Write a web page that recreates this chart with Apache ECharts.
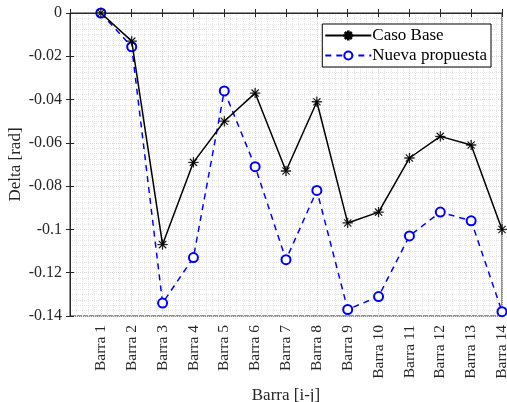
<!DOCTYPE html>
<html>
<head>
<meta charset="utf-8">
<script src="https://cdn.jsdelivr.net/npm/echarts@6/dist/echarts.min.js"></script>
<style>
  html, body { margin: 0; padding: 0; background: #fff; }
  #chart { width: 507px; height: 402px; }
</style>
</head>
<body>
<div id="chart"></div>
<script>
// Bar positions 1..14 and delta values
const barras = [1, 2, 3, 4, 5, 6, 7, 8, 9, 10, 11, 12, 13, 14];
const casoBase = [0, -0.013, -0.107, -0.069, -0.050, -0.037, -0.073, -0.041, -0.097, -0.092, -0.067, -0.057, -0.061, -0.100];
const nuevaPropuesta = [0, -0.0156, -0.134, -0.113, -0.036, -0.071, -0.114, -0.082, -0.137, -0.131, -0.103, -0.092, -0.096, -0.138];
const yTicks = [0, -0.02, -0.04, -0.06, -0.08, -0.1, -0.12, -0.14];

const FONT = 'Liberation Serif';
const asterisk = 'path://M-0.08,-1 L0.08,-1 L0.08,1 L-0.08,1 Z M-1,-0.08 L-1,0.08 L1,0.08 L1,-0.08 Z ' +
  'M-0.76,-0.64 L0.64,0.76 L0.76,0.64 L-0.64,-0.76 Z M-0.76,0.64 L-0.64,0.76 L0.76,-0.64 L0.64,-0.76 Z';

const chart = echarts.init(document.getElementById('chart'));

const gridLine = { show: true, lineStyle: { color: '#d6d6d6', type: 'dotted', width: 1 } };
const minorLine = { show: true, lineStyle: { color: '#e4e4e4', type: 'dotted', width: 1 } };

chart.setOption({
  backgroundColor: '#fff',
  animation: false,
  textStyle: { fontFamily: FONT },
  grid: {
    left: 70, right: 5, top: 13, bottom: 86,
    containLabel: false, outerBoundsMode: 'none',
    show: true, borderColor: '#262626', borderWidth: 1
  },
  legend: {
    orient: 'vertical',
    right: 16,
    top: 24,
    backgroundColor: '#fff',
    borderColor: '#000',
    borderWidth: 1,
    padding: [3, 4, 3, 2],
    itemGap: 3,
    itemWidth: 46,
    itemHeight: 10,
    textStyle: { fontFamily: FONT, fontSize: 17, color: '#000', padding: [0, 0, 0, -4] },
    data: ['Caso Base', 'Nueva propuesta']
  },
  xAxis: [{
    type: 'value',
    min: 0,
    max: 14,
    interval: 1,
    name: 'Barra [i-j]',
    nameLocation: 'middle',
    nameGap: 65,
    nameTextStyle: { fontFamily: FONT, fontSize: 17, color: '#262626' },
    axisLine: { show: true, lineStyle: { color: '#262626' } },
    axisTick: { show: true, inside: true, length: 4, lineStyle: { color: '#262626' } },
    axisLabel: {
      rotate: 90,
      fontFamily: FONT,
      fontSize: 15.5,
      color: '#262626',
      margin: 9,
      formatter: v => (barras.indexOf(v) >= 0 ? 'Barra ' + v : '')
    },
    splitLine: gridLine,
    minorTick: { show: false, splitNumber: 5 },
    minorSplitLine: minorLine
  }, {
    type: 'value',
    position: 'top',
    min: 0,
    max: 14,
    interval: 1,
    axisLine: { show: true, lineStyle: { color: '#262626' } },
    axisTick: { show: true, inside: true, length: 4, lineStyle: { color: '#262626' } },
    axisLabel: { show: false },
    splitLine: { show: false }
  }],
  yAxis: [{
    type: 'value',
    min: -0.14,
    max: 0,
    interval: 0.02,
    name: 'Delta [rad]',
    nameLocation: 'middle',
    nameGap: 46,
    nameMoveOverlap: false,
    nameTextStyle: { fontFamily: FONT, fontSize: 17, color: '#262626' },
    axisLine: { show: true, lineStyle: { color: '#262626' } },
    axisTick: { show: true, inside: true, length: 4, lineStyle: { color: '#262626' } },
    axisLabel: {
      fontFamily: FONT,
      fontSize: 16,
      color: '#262626',
      margin: 8,
      formatter: v => {
        const t = yTicks.find(k => Math.abs(k - v) < 1e-9);
        return t === undefined ? '' : String(t);
      }
    },
    splitLine: gridLine,
    minorTick: { show: false, splitNumber: 8 },
    minorSplitLine: minorLine
  }, {
    type: 'value',
    position: 'right',
    min: -0.14,
    max: 0,
    interval: 0.02,
    axisLine: { show: true, lineStyle: { color: '#262626' } },
    axisTick: { show: true, inside: true, length: 4, lineStyle: { color: '#262626' } },
    axisLabel: { show: false },
    splitLine: { show: false }
  }],
  series: [{
    name: 'Caso Base',
    type: 'line',
    data: barras.map((b, i) => [b, casoBase[i]]),
    symbol: asterisk,
    symbolSize: 10,
    showAllSymbol: true,
    lineStyle: { color: '#000', width: 1.5 },
    itemStyle: { color: '#000', borderColor: '#000', borderWidth: 0.3 },
    z: 3
  }, {
    name: 'Nueva propuesta',
    type: 'line',
    data: barras.map((b, i) => [b, nuevaPropuesta[i]]),
    symbol: 'emptyCircle',
    symbolSize: 9,
    showAllSymbol: true,
    lineStyle: { color: '#0000ff', width: 1.5, type: [6, 5] },
    itemStyle: { color: '#0000ff', borderColor: '#0000ff', borderWidth: 1.5 },
    z: 2
  }]
});
</script>
</body>
</html>
